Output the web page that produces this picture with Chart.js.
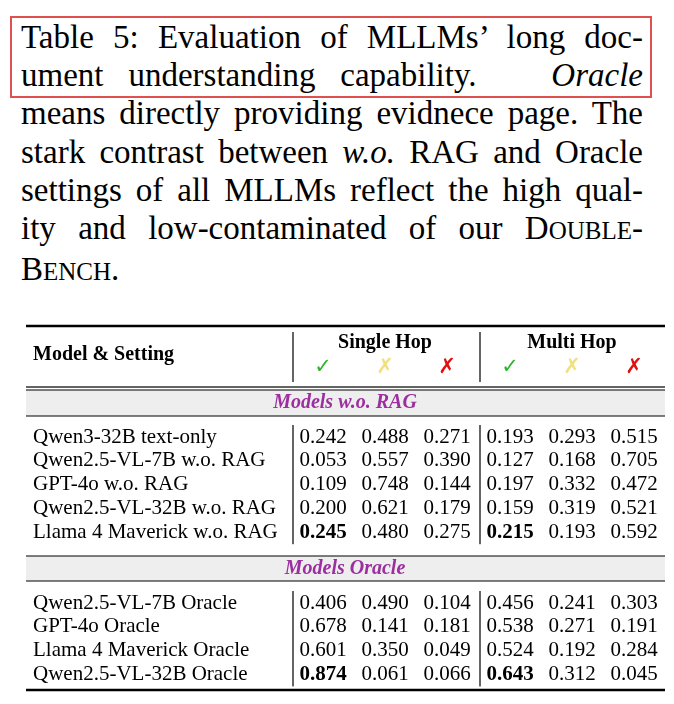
<!DOCTYPE html>
<html><head><meta charset="utf-8">
<script src="https://cdn.jsdelivr.net/npm/chart.js@4"></script>
<style>
body{margin:0;background:#fff;width:674px;height:704px;overflow:hidden;position:relative;font-family:"Liberation Serif",serif}
#cap{position:absolute;left:21px;top:18px;width:622px;font-size:33px;line-height:38.2px;color:#000}
#cap span{display:block;text-align:justify;text-align-last:justify;white-space:nowrap}
#cap span.last{text-align-last:left}
#box{position:absolute;left:10px;top:16px;width:638px;height:78px;border:2px solid #e0504f}
.sc{font-size:25px}
#wrap{position:absolute;left:0;top:318px;width:674px;height:386px}
</style></head><body>
<div id="box"></div>
<div id="cap">
<span>Table 5: Evaluation of MLLMs’ long doc-</span>
<span>ument understanding capability. &nbsp; <i>Oracle</i></span>
<span>means directly providing evidnece page. The</span>
<span>stark contrast between <i>w.o.</i> RAG and Oracle</span>
<span>settings of all MLLMs reflect the high qual-</span>
<span>ity and low-contaminated of our D<span class="sc" style="display:inline">OUBLE</span>-</span>
<span class="last">B<span class="sc" style="display:inline">ENCH</span>.</span>
</div>
<div id="wrap"><canvas id="t"></canvas></div>
<script>
// table data
const groups = ['Models w.o. RAG', 'Models Oracle'];
const modelsNoRag = ['Qwen3-32B text-only', 'Qwen2.5-VL-7B w.o. RAG', 'GPT-4o w.o. RAG', 'Qwen2.5-VL-32B w.o. RAG', 'Llama 4 Maverick w.o. RAG'];
const valuesNoRag = [
  [0.242, 0.488, 0.271, 0.193, 0.293, 0.515],
  [0.053, 0.557, 0.390, 0.127, 0.168, 0.705],
  [0.109, 0.748, 0.144, 0.197, 0.332, 0.472],
  [0.200, 0.621, 0.179, 0.159, 0.319, 0.521],
  [0.245, 0.480, 0.275, 0.215, 0.193, 0.592]
];
const boldNoRag = [[4, 0], [4, 3]];
const modelsOracle = ['Qwen2.5-VL-7B Oracle', 'GPT-4o Oracle', 'Llama 4 Maverick Oracle', 'Qwen2.5-VL-32B Oracle'];
const valuesOracle = [
  [0.406, 0.490, 0.104, 0.456, 0.241, 0.303],
  [0.678, 0.141, 0.181, 0.538, 0.271, 0.191],
  [0.601, 0.350, 0.049, 0.524, 0.192, 0.284],
  [0.874, 0.061, 0.066, 0.643, 0.312, 0.045]
];
const boldOracle = [[3, 0], [3, 3]];
const hopLabels = ['Single Hop', 'Multi Hop'];
const markSymbols = ['✓', '✗', '✗'];
const markColors = ['#2bb52b', '#f0e080', '#e01010'];

const colX = [323, 385, 447, 510, 572, 634];
const serif = '"Liberation Serif", serif';

const tablePlugin = {
  id: 'table',
  afterDraw(chart) {
    const c = chart.ctx, sx = chart.scales.x, sy = chart.scales.y;
    const X = v => sx.getPixelForValue(v), Y = v => sy.getPixelForValue(v);
    const hline = (y, w) => { c.fillStyle = '#000'; c.fillRect(X(26), Y(y) - w / 2, X(665) - X(26), w); };
    const vline = (x, y0, y1) => { c.fillStyle = '#000'; c.fillRect(X(x) - 0.6, Y(y0), 1.2, Y(y1) - Y(y0)); };
    const text = (s, x, y, font, align, color) => {
      c.font = font; c.textAlign = align || 'left'; c.textBaseline = 'middle';
      c.fillStyle = color || '#000'; c.fillText(s, X(x), Y(y));
    };
    c.save();
    hline(8, 2.5);
    text('Model & Setting', 33, 37, 'bold 20px ' + serif);
    text(hopLabels[0], 385, 25, 'bold 20px ' + serif, 'center');
    text(hopLabels[1], 572, 25, 'bold 20px ' + serif, 'center');
    colX.forEach((x, i) => text(markSymbols[i % 3], x, 50, '21px "DejaVu Sans"', 'center', markColors[i % 3]));
    vline(293, 14, 64); vline(480, 14, 64);
    hline(69, 1.2);
    const band = (y0, y1, label) => {
      c.fillStyle = '#eeeeee'; c.fillRect(X(26), Y(y0), X(665) - X(26), Y(y1) - Y(y0));
      hline(y0, 1); hline(y1, 1);
      text(label, 345, (y0 + y1) / 2, 'bold italic 20px ' + serif, 'center', '#9b2fa0');
    };
    const block = (names, vals, bold, y0) => {
      names.forEach((n, r) => {
        const y = y0 + r * 23.8;
        text(n, 33, y, '21px ' + serif);
        vals[r].forEach((v, k) => {
          const b = bold.some(p => p[0] === r && p[1] === k);
          text(v.toFixed(3), colX[k], y, (b ? 'bold ' : '') + '21px ' + serif, 'center');
        });
      });
      vline(293, y0 - 12, y0 + (names.length - 1) * 23.8 + 12);
      vline(480, y0 - 12, y0 + (names.length - 1) * 23.8 + 12);
    };
    band(72, 98, groups[0]);
    block(modelsNoRag, valuesNoRag, boldNoRag, 119);
    band(238, 263, groups[1]);
    block(modelsOracle, valuesOracle, boldOracle, 285);
    hline(372, 2.5);
    c.restore();
  }
};

new Chart(document.getElementById('t'), {
  type: 'scatter',
  data: { datasets: [] },
  options: {
    responsive: true, maintainAspectRatio: false, animation: false,
    layout: { padding: 0 },
    plugins: { legend: { display: false }, tooltip: { enabled: false } },
    scales: {
      x: { type: 'linear', min: 0, max: 674, display: false },
      y: { type: 'linear', min: 0, max: 386, reverse: true, display: false }
    }
  },
  plugins: [tablePlugin]
});
</script>
</body></html>
